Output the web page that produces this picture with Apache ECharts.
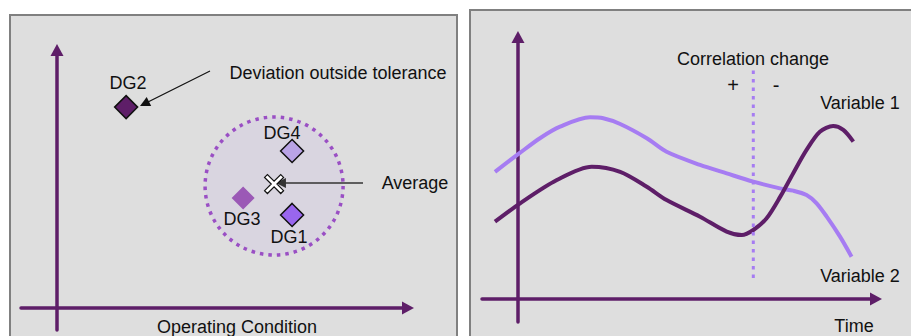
<!DOCTYPE html>
<html>
<head>
<meta charset="utf-8">
<script src="https://cdn.jsdelivr.net/npm/echarts@6/dist/echarts.min.js"></script>
<style>
  html, body { margin: 0; padding: 0; background: #ffffff; }
  #chart { width: 911px; height: 336px; }
</style>
</head>
<body>
<div id="chart"></div>
<script>
// Left panel: operating-condition scatter (x, y in axis units)
const dgNames = ['DG1', 'DG2', 'DG3', 'DG4'];
const dgX = [6.53, 1.92, 5.17, 6.53];
const dgY = [4.22, 9.11, 4.99, 7.12];
const averagePoint = [6.03, 5.62];
const tolerancePoint = [6.03, 5.53];

// Right panel: two variables over time
const timeV1 = [-0.64, 0.06, 1.08, 2.05, 2.84, 3.58, 4.13, 5.06, 5.80, 6.22, 6.54, 6.91, 7.29, 7.65, 8.02, 8.39, 8.76, 9.04, 9.32];
const variable1 = [3.36, 4.16, 5.17, 5.75, 5.53, 4.88, 4.30, 3.58, 2.93, 2.78, 3.00, 3.51, 4.45, 5.47, 6.48, 7.27, 7.52, 7.35, 6.84];
const timeV2 = [-0.64, 0.06, 0.61, 1.17, 2.00, 2.37, 2.84, 3.58, 4.13, 5.06, 5.80, 6.54, 7.28, 7.65, 8.02, 8.30, 8.58, 8.95, 9.27];
const variable2 = [5.53, 6.36, 6.99, 7.49, 7.90, 7.86, 7.61, 6.99, 6.40, 5.83, 5.46, 5.10, 4.81, 4.71, 4.52, 4.16, 3.58, 2.71, 1.84];
const changeTime = 6.54;
const changeSpan = [0.91, 9.96];

const DARK = '#5e1e68';
const LIGHT = '#a67cf2';
const FAMILY = '"Liberation Sans", Arial, sans-serif';
const FONT = '18px ' + FAMILY;

const chart = echarts.init(document.getElementById('chart'), null, { renderer: 'svg' });

function valueAxis(gridIndex, min, max) {
  return {
    type: 'value', gridIndex, min, max,
    axisLine: {
      show: true,
      onZero: true,
      symbol: ['none', 'triangle'],
      symbolSize: [13, 12],
      lineStyle: { color: DARK, width: 3.5 }
    },
    axisTick: { show: false },
    axisLabel: { show: false },
    splitLine: { show: false }
  };
}
function text(x, y, str, font) {
  return {
    type: 'text', x, y, z: 50,
    style: { text: str, font: font || FONT, fill: '#111111', align: 'center', verticalAlign: 'middle' }
  };
}

const dgColors = ['#9966ee', DARK, '#9b59b6', '#b9a3e6'];
const dgBorders = [1.5, 1.5, 0, 1.5];
const dgOffsets = [[-3, 22], [2, -24], [-1, 21], [-10, -18]];

const dgData = dgNames.map((n, i) => ({
  name: n,
  value: [dgX[i], dgY[i]],
  itemStyle: { color: dgColors[i], borderColor: '#111111', borderWidth: dgBorders[i], opacity: 1 },
  label: { offset: dgOffsets[i] }
}));

chart.setOption({
  animation: false,
  graphic: [
    { type: 'rect', z: -10, shape: { x: 10, y: 15, width: 447, height: 330 },
      style: { fill: '#dedede', stroke: '#808080', lineWidth: 2 } },
    { type: 'rect', z: -10, shape: { x: 470, y: 10, width: 450, height: 340 },
      style: { fill: '#dedede', stroke: '#808080', lineWidth: 2 } },
    text(338, 73, 'Deviation outside tolerance'),
    text(415, 183, 'Average'),
    text(237, 327, 'Operating Condition'),
    text(753, 59, 'Correlation change'),
    text(733, 85, '+', '20px ' + FAMILY),
    text(776, 85, '-', '20px ' + FAMILY),
    text(860, 103, 'Variable 1'),
    text(860, 276, 'Variable 2'),
    text(854, 326, 'Time')
  ],
  grid: [
    { left: 21, width: 387, top: 50, height: 280 },
    { left: 482, width: 394, top: 37, height: 285 }
  ],
  xAxis: [valueAxis(0, -1, 9.75), valueAxis(1, -1, 9.95)],
  yAxis: [valueAxis(0, -1, 11.7), valueAxis(1, -1, 11.39)],
  series: [
    {
      type: 'scatter', xAxisIndex: 0, yAxisIndex: 0, z: 1,
      symbol: 'circle', symbolSize: 138,
      silent: true,
      itemStyle: { color: '#d9d5e0', opacity: 1, borderColor: '#9a4fc4', borderWidth: 3.5, borderType: [3.5, 5] },
      data: [tolerancePoint]
    },
    {
      type: 'lines', coordinateSystem: 'cartesian2d', xAxisIndex: 0, yAxisIndex: 0, z: 3,
      symbol: ['none', 'triangle'], symbolSize: 10,
      lineStyle: { color: '#111111', width: 1.2, opacity: 1 },
      data: [{ coords: [[4.25, 10.75], [2.43, 9.26]] }]
    },
    {
      type: 'lines', coordinateSystem: 'cartesian2d', xAxisIndex: 0, yAxisIndex: 0, z: 3,
      symbol: ['none', 'triangle'], symbolSize: 10,
      lineStyle: { color: '#333333', width: 1.5, opacity: 1 },
      data: [{ coords: [[8.5, 5.67], [6.22, 5.67]] }]
    },
    {
      type: 'scatter', xAxisIndex: 0, yAxisIndex: 0, z: 4,
      symbol: 'diamond', symbolSize: 23,
      label: { show: true, position: 'inside', formatter: '{b}', fontSize: 18, fontFamily: FAMILY, color: '#111111' },
      data: dgData
    },
    {
      type: 'scatter', xAxisIndex: 0, yAxisIndex: 0, z: 5,
      symbol: 'path://M0,3 L3,0 L10,7 L17,0 L20,3 L13,10 L20,17 L17,20 L10,13 L3,20 L0,17 L7,10 Z',
      symbolSize: 19,
      itemStyle: { color: '#ffffff', opacity: 1, borderColor: '#111111', borderWidth: 1.2 },
      data: [averagePoint]
    },
    {
      type: 'line', xAxisIndex: 1, yAxisIndex: 1, z: 3,
      smooth: 0.3, showSymbol: false,
      lineStyle: { color: LIGHT, width: 4 },
      data: timeV2.map((t, i) => [t, variable2[i]])
    },
    {
      type: 'line', xAxisIndex: 1, yAxisIndex: 1, z: 4,
      smooth: 0.3, showSymbol: false,
      lineStyle: { color: DARK, width: 4 },
      data: timeV1.map((t, i) => [t, variable1[i]])
    },
    {
      type: 'line', xAxisIndex: 1, yAxisIndex: 1, z: 5,
      showSymbol: false,
      lineStyle: { color: LIGHT, width: 3, type: [3.5, 5] },
      data: changeSpan.map(v => [changeTime, v])
    }
  ]
});
</script>
</body>
</html>
